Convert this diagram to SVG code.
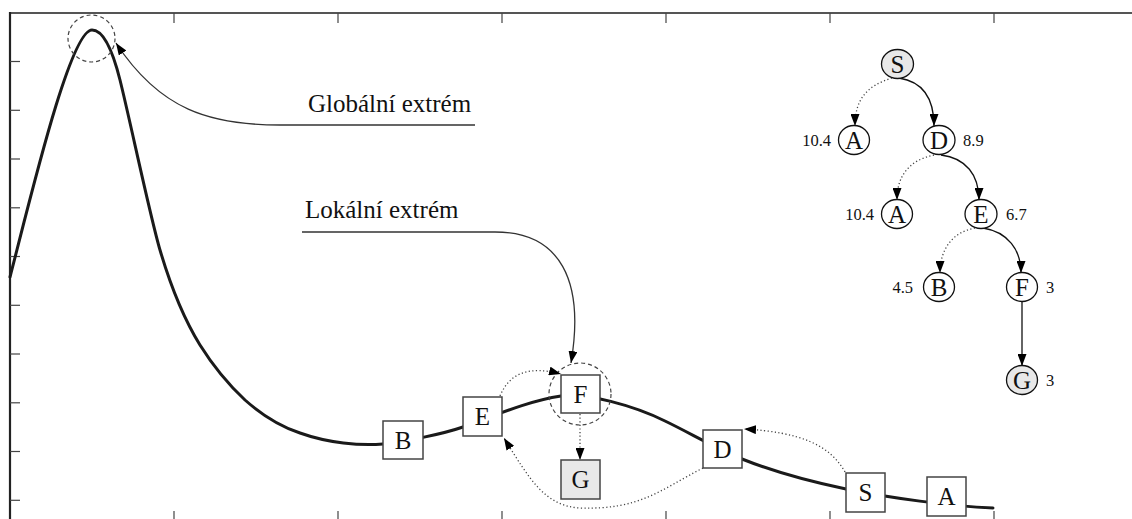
<svg xmlns="http://www.w3.org/2000/svg" width="1132" height="519" viewBox="0 0 1132 519">
  <style>
    .axis { stroke: #555; stroke-width: 2.2; fill: none; }
    .yaxis { stroke: #222; stroke-width: 2.2; fill: none; }
    .tick { stroke: #444; stroke-width: 1.2; }
    .curve { stroke: #1a1a1a; stroke-width: 3; fill: none; stroke-linecap: round; stroke-linejoin: round; }
    .box { fill: #fff; stroke: #444; stroke-width: 1.5; }
    .box.goal { fill: #e8e8e8; }
    .ell { fill: #fff; stroke: #111; stroke-width: 1.3; }
    .ell.goal { fill: #e8e8e8; }
    .lbl { font-family: "Liberation Serif", "Times New Roman", serif; font-size: 25px; fill: #111; }
    .num { font-family: "Liberation Serif", "Times New Roman", serif; font-size: 16.5px; fill: #111; }
    .solid { stroke: #111; stroke-width: 1.3; fill: none; }
    .dot { stroke: #444; stroke-width: 1.3; fill: none; stroke-dasharray: 1.2 2.4; }
    .ring { stroke: #444; stroke-width: 1.2; fill: none; stroke-dasharray: 4 3; }
    .lead { stroke: #333; stroke-width: 1.3; fill: none; }
  </style>
  <defs>
    <marker id="ah" markerWidth="12" markerHeight="9" refX="12" refY="4.5" orient="auto" markerUnits="userSpaceOnUse">
      <path d="M0,0 L12,4.5 L0,9 z" fill="#000"/>
    </marker>
  </defs>

  <rect width="1132" height="519" fill="#fff"/>

  <!-- frame and ticks -->
  <g id="frame">
    <line class="axis" x1="10" y1="13" x2="1132" y2="13"/>
    <line class="yaxis" x1="10" y1="12" x2="10" y2="519"/>
    <g class="tick">
      <line x1="174" y1="13" x2="174" y2="23"/>
      <line x1="338" y1="13" x2="338" y2="23"/>
      <line x1="502" y1="13" x2="502" y2="23"/>
      <line x1="666" y1="13" x2="666" y2="23"/>
      <line x1="830" y1="13" x2="830" y2="23"/>
      <line x1="994" y1="13" x2="994" y2="23"/>
      <line x1="174" y1="511" x2="174" y2="519"/>
      <line x1="338" y1="511" x2="338" y2="519"/>
      <line x1="502" y1="511" x2="502" y2="519"/>
      <line x1="666" y1="511" x2="666" y2="519"/>
      <line x1="830" y1="511" x2="830" y2="519"/>
      <line x1="994" y1="511" x2="994" y2="519"/>
      <line x1="10" y1="61.5" x2="20" y2="61.5"/>
      <line x1="10" y1="110.3" x2="20" y2="110.3"/>
      <line x1="10" y1="159" x2="20" y2="159"/>
      <line x1="10" y1="207.8" x2="20" y2="207.8"/>
      <line x1="10" y1="256.5" x2="20" y2="256.5"/>
      <line x1="10" y1="305.3" x2="20" y2="305.3"/>
      <line x1="10" y1="354" x2="20" y2="354"/>
      <line x1="10" y1="402.8" x2="20" y2="402.8"/>
      <line x1="10" y1="451.5" x2="20" y2="451.5"/>
      <line x1="10" y1="500.3" x2="20" y2="500.3"/>
    </g>
  </g>

  <!-- objective function landscape -->
  <path id="landscape" class="curve" d="M10,277 C30,200 70,30 92,30 C104,30 113,52 120,80 C130,120 150,216 160,250 C173,294 187,324 200,345 C215,369 230,386 245,400 C263,416 282,427 300,433 C328,443 360,446 383,444 C403,442 443,434 463,427 C496,415 528,401 561,396 C585,392 635,406 665,421 C690,433 717,449 742,459 C777,473 812,482 846,489 C890,498 950,506 993,508"/>

  <!-- highlighted extremes -->
  <circle class="ring" cx="91.5" cy="38.5" r="23.5"/>
  <circle class="ring" cx="580" cy="394" r="31"/>

  <!-- connectors -->
  <g id="connectors">
    <path class="lead" d="M475,125 L280,125 C210,125 160,110 116,43" marker-end="url(#ah)"/>
    <path class="lead" d="M302,232 L495,232 C560,232 585,280 571,363" marker-end="url(#ah)"/>
    <path class="dot" d="M500,396 C510,372 530,366 561,374" marker-end="url(#ah)"/>
    <path class="dot" d="M580,414 L580,460" marker-end="url(#ah)"/>
    <path class="dot" d="M703,468 C660,490 640,510 580,508 C545,506 530,480 504,438" marker-end="url(#ah)"/>
    <path class="dot" d="M845,472 C830,445 800,432 744,429" marker-end="url(#ah)"/>

    <path class="dot" d="M892,78 C866,86 855,100 855,126" marker-end="url(#ah)"/>
    <path class="solid" d="M899,78 C925,82 934,100 934,126" marker-end="url(#ah)"/>
    <path class="dot" d="M934,155 C910,160 897,175 897,200" marker-end="url(#ah)"/>
    <path class="solid" d="M941,155 C966,158 979,175 979,200" marker-end="url(#ah)"/>
    <path class="dot" d="M975,228 C952,232 940,250 940,273" marker-end="url(#ah)"/>
    <path class="solid" d="M983,228 C1008,232 1021,250 1021,273" marker-end="url(#ah)"/>
    <path class="solid" d="M1022,302 L1022,366" marker-end="url(#ah)"/>
  </g>

  <!-- annotations -->
  <text id="label-global" class="lbl" x="308" y="112">Globální extrém</text>
  <text id="label-local" class="lbl" x="305" y="218">Lokální extrém</text>

  <!-- states placed on the landscape -->
  <g id="box-B"><rect class="box" x="383" y="421" width="40" height="38"/><text class="lbl" x="403" y="448.5" text-anchor="middle">B</text></g>
  <g id="box-E"><rect class="box" x="463" y="397" width="39" height="39"/><text class="lbl" x="482.5" y="425" text-anchor="middle">E</text></g>
  <g id="box-F"><rect class="box" x="561" y="375" width="39" height="38"/><text class="lbl" x="580.5" y="402.5" text-anchor="middle">F</text></g>
  <g id="box-G"><rect class="box goal" x="561" y="460" width="39" height="39"/><text class="lbl" x="580.5" y="488" text-anchor="middle">G</text></g>
  <g id="box-D"><rect class="box" x="703" y="430" width="39" height="38"/><text class="lbl" x="722.5" y="457.5" text-anchor="middle">D</text></g>
  <g id="box-S"><rect class="box" x="846" y="473" width="39" height="39"/><text class="lbl" x="865.5" y="501" text-anchor="middle">S</text></g>
  <g id="box-A"><rect class="box" x="927" y="477" width="39" height="39"/><text class="lbl" x="946.5" y="505" text-anchor="middle">A</text></g>

  <!-- search tree -->
  <g id="tree-S"><ellipse class="ell goal" cx="897.5" cy="64" rx="16" ry="14.5"/><text class="lbl" x="897.5" y="72.5" text-anchor="middle">S</text></g>
  <g id="tree-A1"><ellipse class="ell" cx="854" cy="140" rx="15.5" ry="14.5"/><text class="lbl" x="854" y="148.5" text-anchor="middle">A</text><text class="num" x="831" y="146" text-anchor="end">10.4</text></g>
  <g id="tree-D"><ellipse class="ell" cx="939" cy="140" rx="16" ry="14.5"/><text class="lbl" x="939" y="148.5" text-anchor="middle">D</text><text class="num" x="963" y="146">8.9</text></g>
  <g id="tree-A2"><ellipse class="ell" cx="897" cy="214" rx="15.5" ry="14.5"/><text class="lbl" x="897" y="222.5" text-anchor="middle">A</text><text class="num" x="874" y="220" text-anchor="end">10.4</text></g>
  <g id="tree-E"><ellipse class="ell" cx="981" cy="214" rx="16" ry="14.5"/><text class="lbl" x="981" y="222.5" text-anchor="middle">E</text><text class="num" x="1006" y="220">6.7</text></g>
  <g id="tree-B"><ellipse class="ell" cx="939" cy="287" rx="15.5" ry="14.5"/><text class="lbl" x="939" y="295.5" text-anchor="middle">B</text><text class="num" x="913" y="293" text-anchor="end">4.5</text></g>
  <g id="tree-F"><ellipse class="ell" cx="1022" cy="287" rx="15.5" ry="14.5"/><text class="lbl" x="1022" y="295.5" text-anchor="middle">F</text><text class="num" x="1046" y="293">3</text></g>
  <g id="tree-G"><ellipse class="ell goal" cx="1022" cy="380" rx="15.5" ry="14.5"/><text class="lbl" x="1022" y="388.5" text-anchor="middle">G</text><text class="num" x="1046" y="386">3</text></g>
</svg>
